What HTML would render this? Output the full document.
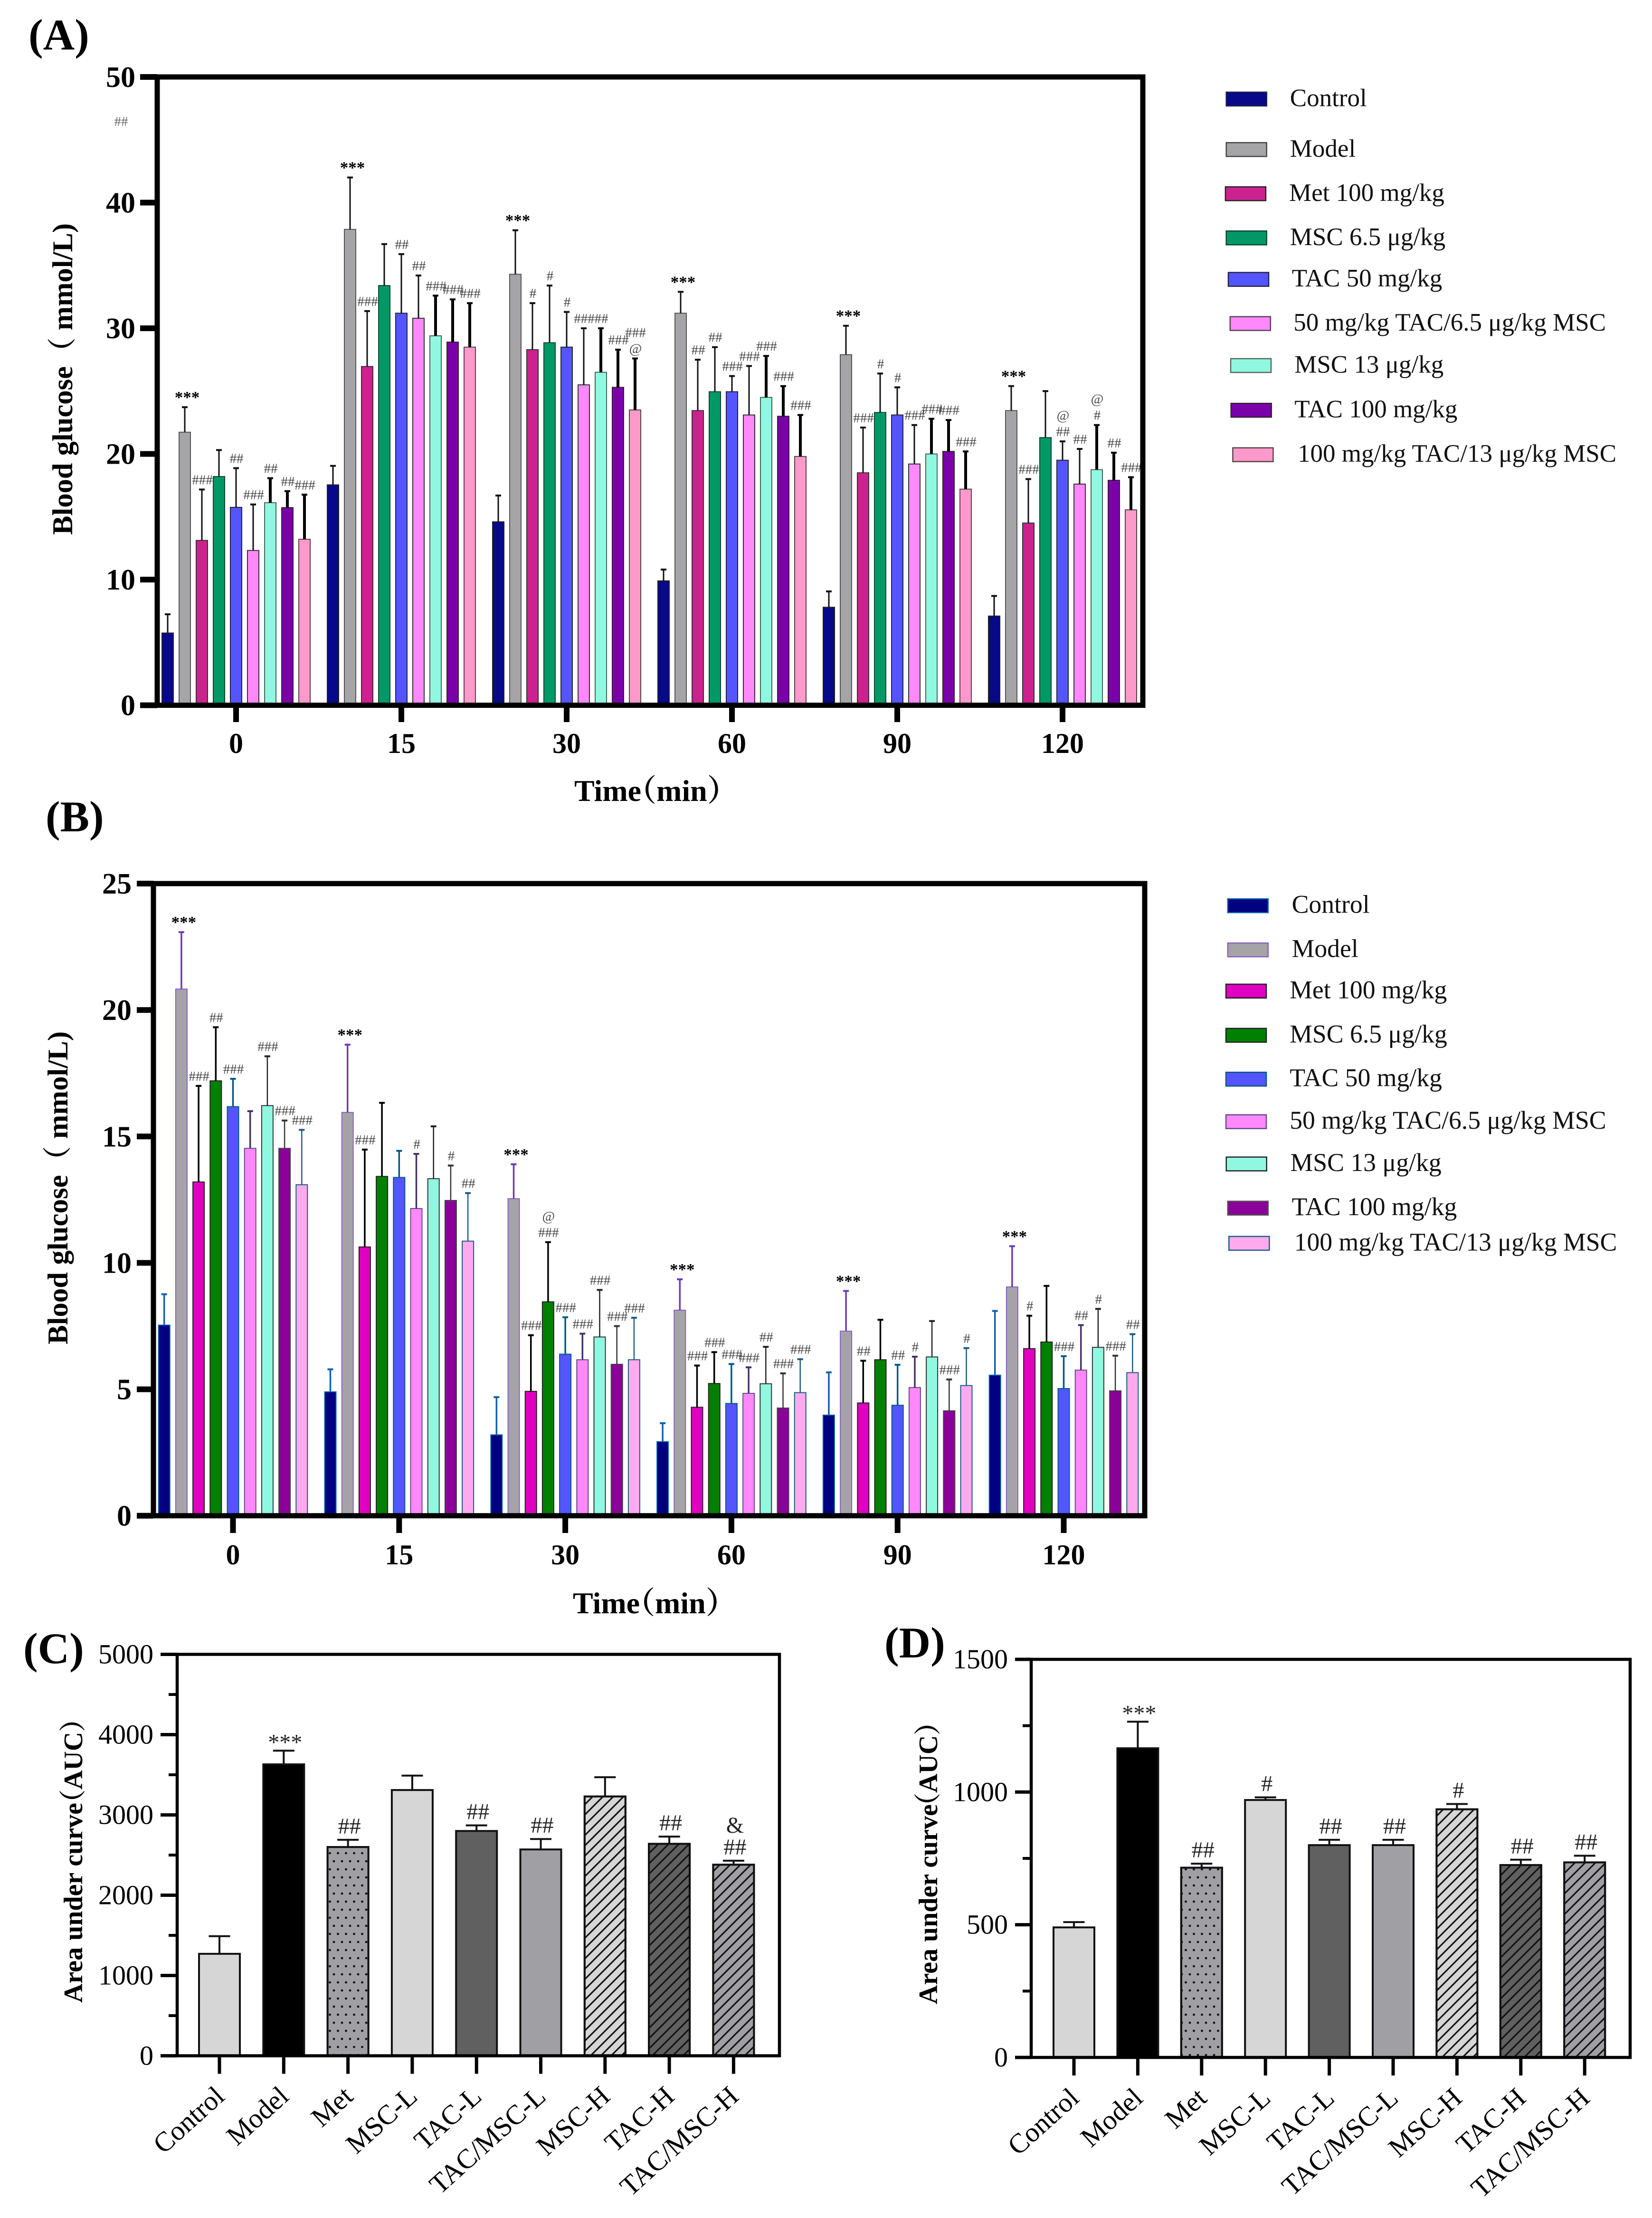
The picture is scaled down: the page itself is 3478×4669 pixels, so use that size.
<!DOCTYPE html>
<html lang="en">
<head>
<meta charset="utf-8">
<title>Blood glucose and AUC bar charts</title>
<style>
html,body{margin:0;padding:0;background:#fff;}
svg{display:block;}
text{font-family:"Liberation Serif","Noto Serif CJK SC",serif;fill:#000;}
.panel{font-size:92px;font-weight:bold;}
.lg{font-size:53px;fill:#111;}
.lgb{font-size:53.7px;fill:#111;}
.ttl{font-size:60px;font-weight:bold;}
.sw{stroke-width:2.5;}
</style>
</head>
<body>
<svg id="figure" xmlns="http://www.w3.org/2000/svg" width="3478" height="4669" viewBox="0 0 3478 4669">
<defs>
<pattern id="dotsP" patternUnits="userSpaceOnUse" width="17" height="34" x="2" y="0"><circle cx="4" cy="8" r="2.4" fill="#111"/><circle cx="12.5" cy="25" r="2.4" fill="#111"/></pattern>
<pattern id="hatchP" patternUnits="userSpaceOnUse" width="15.3" height="15.3" patternTransform="rotate(45)"><line x1="7" y1="0" x2="7" y2="15.3" stroke="#111" stroke-width="3.2"/></pattern>
</defs>
<rect x="0" y="0" width="3478" height="4669" fill="#fff"/>

<text class="panel" x="60" y="104">(A)</text>
<text class="panel" x="96" y="1750">(B)</text>
<text class="panel" x="49" y="3501">(C)</text>
<text class="panel" x="1862" y="3489">(D)</text>

<text class="ttl" transform="translate(152 1126) rotate(-90)" textLength="656" lengthAdjust="spacingAndGlyphs">Blood glucose（ mmol/L)</text>
<text class="ttl" transform="translate(142 2830) rotate(-90)" textLength="659" lengthAdjust="spacingAndGlyphs">Blood glucose（ mmol/L)</text>
<text class="ttl" transform="translate(173 4216) rotate(-90)" style="font-size:56px">Area under curve<tspan dx="-28">（</tspan>AUC）</text>
<text class="ttl" transform="translate(1973 4219) rotate(-90)" style="font-size:56px">Area under curve<tspan dx="-32">（</tspan>AUC）</text>
<text class="ttl" x="1209" y="1686" style="font-size:64px">Time<tspan dx="-32">（</tspan>min）</text>
<text class="ttl" x="1206" y="3396" style="font-size:64px">Time<tspan dx="-32">（</tspan>min）</text>

<g>
<rect class="sw" x="2581.7" y="194" width="85" height="29" fill="#08088a" stroke="#224"/>
<text class="lg" x="2715.8" y="223.6">Control</text>
<rect class="sw" x="2581.7" y="300.3" width="85" height="29" fill="#a5a5a8" stroke="#444"/>
<text class="lg" x="2715.8" y="329.8">Model</text>
<rect class="sw" x="2579.9" y="393.3" width="85" height="29" fill="#cc2290" stroke="#222"/>
<text class="lg" x="2714" y="422.8">Met 100 mg/kg</text>
<rect class="sw" x="2581.7" y="486.3" width="85" height="29" fill="#009966" stroke="#143"/>
<text class="lg" x="2715.8" y="515.8">MSC 6.5 μg/kg</text>
<rect class="sw" x="2586" y="573.6" width="85" height="29" fill="#5555ff" stroke="#224"/>
<text class="lg" x="2719.6" y="603.1">TAC 50 mg/kg</text>
<rect class="sw" x="2589.8" y="666.6" width="85" height="29" fill="#ff88fb" stroke="#545"/>
<text class="lg" x="2723.3" y="696.1">50 mg/kg TAC/6.5 μg/kg MSC</text>
<rect class="sw" x="2591" y="755" width="85" height="29" fill="#90f8e0" stroke="#565"/>
<text class="lg" x="2725.2" y="784.5">MSC 13 μg/kg</text>
<rect class="sw" x="2591.7" y="849.1" width="85" height="29" fill="#7a00aa" stroke="#323"/>
<text class="lg" x="2725.2" y="878.6">TAC 100 mg/kg</text>
<rect class="sw" x="2595.4" y="942.7" width="85" height="29" fill="#ff99cc" stroke="#544"/>
<text class="lg" x="2732" y="972.2">100 mg/kg TAC/13 μg/kg MSC</text>
</g>

<g>
<rect class="sw" x="2584.8" y="1892.1" width="85" height="29" fill="#000080" stroke="#1060b0"/>
<text class="lgb" x="2719.6" y="1921.6">Control</text>
<rect class="sw" x="2584.8" y="1985.1" width="85" height="29" fill="#a5a3a8" stroke="#8a60c0"/>
<text class="lgb" x="2719.6" y="2014.6">Model</text>
<rect class="sw" x="2581" y="2071.8" width="85" height="29" fill="#e000c0" stroke="#222"/>
<text class="lgb" x="2715.2" y="2101.3">Met 100 mg/kg</text>
<rect class="sw" x="2581" y="2164.8" width="85" height="29" fill="#008000" stroke="#222"/>
<text class="lgb" x="2715.2" y="2194.3">MSC 6.5 μg/kg</text>
<rect class="sw" x="2581" y="2257.2" width="85" height="29" fill="#5555ff" stroke="#005a80"/>
<text class="lgb" x="2715.2" y="2286.7">TAC 50 mg/kg</text>
<rect class="sw" x="2581" y="2346.7" width="85" height="29" fill="#ff88fb" stroke="#654a88"/>
<text class="lgb" x="2715.2" y="2376.2">50 mg/kg TAC/6.5 μg/kg MSC</text>
<rect class="sw" x="2581.7" y="2435.7" width="85" height="29" fill="#90f8e0" stroke="#222"/>
<text class="lgb" x="2716.5" y="2465.2">MSC 13 μg/kg</text>
<rect class="sw" x="2584.8" y="2528.7" width="85" height="29" fill="#8b0099" stroke="#555"/>
<text class="lgb" x="2719.6" y="2558.2">TAC 100 mg/kg</text>
<rect class="sw" x="2587.3" y="2602.8" width="85" height="29" fill="#ffaaee" stroke="#1a5a80"/>
<text class="lgb" x="2724.6" y="2632.3">100 mg/kg TAC/13 μg/kg MSC</text>
</g>

<text x="255" y="265" text-anchor="middle" style="font-size:29px;fill:#666">##</text>
</svg>

<script>
// ---------- Shared categories ----------
const timeLabels = ['0', '15', '30', '60', '90', '120'];
const aucCategories = ['Control', 'Model', 'Met', 'MSC-L', 'TAC-L', 'TAC/MSC-L', 'MSC-H', 'TAC-H', 'TAC/MSC-H'];

// ---------- Panel A values (one per time point) ----------
const aTicks = [0, 10, 20, 30, 40, 50];
const aControl = [5.75, 17.54, 14.6, 9.9, 7.8, 7.1];
const aModel = [21.73, 37.87, 34.3, 31.2, 27.9, 23.45];
const aMet = [13.12, 26.96, 28.3, 23.45, 18.5, 14.5];
const aMscLow = [18.2, 33.4, 28.85, 24.95, 23.3, 21.3];
const aTacLow = [15.75, 31.2, 28.5, 24.95, 23.1, 19.5];
const aComboLow = [12.32, 30.8, 25.5, 23.1, 19.2, 17.6];
const aMscHigh = [16.12, 29.4, 26.5, 24.5, 20.0, 18.75];
const aTacHigh = [15.73, 28.9, 25.3, 23.0, 20.2, 17.9];
const aComboHigh = [13.21, 28.5, 23.5, 19.8, 17.2, 15.55];

const aControlUp = [7.24, 19.05, 16.69, 10.8, 9.06, 8.7];
const aModelUp = [23.72, 42.0, 37.8, 32.9, 30.2, 25.4];
const aMetUp = [17.17, 31.37, 32.0, 27.5, 22.1, 18.0];
const aMscLowUp = [20.31, 36.7, 33.4, 28.5, 26.4, 25.0];
const aTacLowUp = [18.87, 35.9, 31.3, 26.2, 25.3, 21.0];
const aComboLowUp = [15.98, 34.2, 30.0, 27.0, 22.3, 20.4];
const aMscHighUp = [18.07, 32.6, 30.0, 27.8, 22.8, 22.3];
const aTacHighUp = [17.04, 32.3, 28.3, 25.4, 22.7, 20.1];
const aComboHighUp = [16.76, 32.0, 27.6, 23.1, 20.2, 18.15];

const aNotes0 = ['', '***', '###', '', '##', '###', '##', '##', '###'];
const aNotes15 = ['', '***', '###', '', '##', '##', '###', '###', '###'];
const aNotes30 = ['', '***', '#', '#', '#', '###', '##', '###', '###|@'];
const aNotes60 = ['', '***', '##', '##', '###', '###', '###', '###', '###'];
const aNotes90 = ['', '***', '###', '#', '#', '###', '###', '###', '###'];
const aNotes120 = ['', '***', '###', '', '@|##', '##', '@|#', '##', '###'];

// ---------- Panel B values ----------
const bTicks = [0, 5, 10, 15, 20, 25];
const bControl = [7.54, 4.9, 3.2, 2.93, 3.98, 5.56];
const bModel = [20.83, 15.95, 12.54, 8.13, 7.3, 9.05];
const bMet = [13.2, 10.63, 4.92, 4.29, 4.46, 6.61];
const bMscLow = [17.2, 13.42, 8.46, 5.23, 6.17, 6.87];
const bTacLow = [16.18, 13.38, 6.39, 4.44, 4.37, 5.03];
const bComboLow = [14.53, 12.15, 6.17, 4.84, 5.07, 5.76];
const bMscHigh = [16.22, 13.33, 7.07, 5.22, 6.28, 6.66];
const bTacHigh = [14.53, 12.47, 5.99, 4.26, 4.15, 4.94];
const bComboHigh = [13.09, 10.86, 6.17, 4.87, 5.15, 5.66];

const bControlUp = [8.76, 5.79, 4.69, 3.66, 5.67, 8.1];
const bModelUp = [23.08, 18.63, 13.9, 9.35, 8.89, 10.66];
const bMetUp = [17.0, 14.48, 7.14, 5.94, 6.13, 7.91];
const bMscLowUp = [19.32, 16.33, 10.82, 6.47, 7.75, 9.09];
const bTacLowUp = [17.28, 14.43, 7.85, 6.0, 5.97, 6.31];
const bComboLowUp = [16.0, 14.31, 7.2, 5.87, 6.29, 7.54];
const bMscHighUp = [18.17, 15.4, 8.93, 6.68, 7.7, 8.18];
const bTacHighUp = [15.63, 13.85, 7.5, 5.63, 5.39, 6.33];
const bComboHighUp = [15.26, 12.76, 7.83, 6.19, 6.63, 7.18];

const bNotes0 = ['', '***', '###', '##', '###', '', '###', '###', '###'];
const bNotes15 = ['', '***', '###', '', '', '#', '', '#', '##'];
const bNotes30 = ['', '***', '###', '@|###', '###', '###', '###', '###', '###'];
const bNotes60 = ['', '***', '###', '###', '###', '###', '##', '###', '###'];
const bNotes90 = ['', '***', '##', '', '##', '#', '', '###', '#'];
const bNotes120 = ['', '***', '#', '', '###', '##', '#', '###', '##'];

// ---------- Panel C / D values ----------
const cTicks = [0, 1000, 2000, 3000, 4000, 5000];
const cMinorTicks = [500, 1500, 2500, 3500, 4500];
const cMeans = [1270, 3630, 2600, 3310, 2800, 2570, 3230, 2640, 2380];
const cUppers = [1490, 3800, 2690, 3490, 2870, 2700, 3470, 2730, 2430];
const cNotes = ['', '***', '##', '', '##', '##', '', '##', '&|##'];

const dTicks = [0, 500, 1000, 1500];
const dMinorTicks = [250, 750, 1250];
const dMeans = [490, 1165, 715, 970, 800, 800, 935, 725, 735];
const dUppers = [510, 1265, 730, 980, 820, 820, 955, 745, 760];
const dNotes = ['', '***', '##', '#', '##', '##', '#', '##', '##'];

// ---------- Drawing ----------
const NS = 'http://www.w3.org/2000/svg';
const figure = document.getElementById('figure');

function mk(tag, attrs, parent) {
  const n = document.createElementNS(NS, tag);
  for (const k in attrs) n.setAttribute(k, attrs[k]);
  parent.appendChild(n);
  return n;
}

function drawGrouped(cfg) {
  const g = mk('g', {}, figure);
  
  
  const yMax = cfg.ticks[cfg.ticks.length - 1];
  const yOf = v => cfg.bottom - v / yMax * (cfg.bottom - cfg.top);
  const xOf = (t, s) => cfg.x0 + t * cfg.groupStep + (s - 4) * cfg.barStep;

  timeLabels.forEach((lab, t) => {
    cfg.means.forEach((series, s) => {
      const bx = xOf(t, s);
      const bar = mk('rect', {x: bx - cfg.barW / 2, y: yOf(series[t]), width: cfg.barW, height: cfg.bottom - yOf(series[t]), fill: cfg.fills[s], stroke: cfg.strokes[s], 'stroke-width': 2}, g);
      
      
      const top = yOf(cfg.uppers[s][t]);
      const stem = mk('line', {x1: bx, x2: bx, y1: yOf(series[t]), y2: top, stroke: cfg.errColors[s], 'stroke-width': cfg.errWidths[s]}, g);
      
      
      const cap = mk('line', {x1: bx - 6, x2: bx + 6, y1: top, y2: top, stroke: cfg.errColors[s], 'stroke-width': 4}, g);
      
      
      const note = cfg.notes[t][s];
      if (note) {
        const lines = note.split('|').reverse();
        lines.forEach((txt, li) => {
          const star = txt === '***';
          const base = top - (star ? 9 : 11) - li * 34;
          const tx = mk('text', {x: bx + (star ? 5 : 1), y: base, 'text-anchor': 'middle', style: star ? 'font-size:35px;font-weight:bold;fill:#000' : 'font-size:29px;fill:#444'}, g);
          tx.textContent = txt;
          
          
        });
      }
    });
    const tick = mk('rect', {x: cfg.x0 + t * cfg.groupStep - 6, y: cfg.bottom, width: 12, height: cfg.tickEnd - cfg.bottom, fill: '#000'}, g);
    
    
    const tl = mk('text', {x: cfg.x0 + t * cfg.groupStep, y: cfg.xLabelY, 'text-anchor': 'middle', style: 'font-size:60px;font-weight:bold'}, g);
    tl.textContent = lab;
    
    
  });

  cfg.ticks.forEach(v => {
    const tk = mk('rect', {x: cfg.tickLeft, y: yOf(v) - 6, width: cfg.left - cfg.tickLeft, height: 12, fill: '#000'}, g);
    
    
    const tl = mk('text', {x: cfg.yLabelX, y: yOf(v) + 21, 'text-anchor': 'end', style: 'font-size:62px;font-weight:bold'}, g);
    tl.textContent = String(v);
    
    
  });

  const frame = mk('rect', {x: cfg.left, y: cfg.top, width: cfg.right - cfg.left, height: cfg.bottom - cfg.top, fill: 'none', stroke: '#000', 'stroke-width': 11}, g);
  
  
}

drawGrouped({
  name: 'chart-a', ticks: aTicks, left: 331, right: 2406, top: 162, bottom: 1484.6,
  x0: 497, groupStep: 348, barStep: 36, barW: 24, tickEnd: 1520, tickLeft: 295, yLabelX: 285, xLabelY: 1585,
  means: [aControl, aModel, aMet, aMscLow, aTacLow, aComboLow, aMscHigh, aTacHigh, aComboHigh],
  uppers: [aControlUp, aModelUp, aMetUp, aMscLowUp, aTacLowUp, aComboLowUp, aMscHighUp, aTacHighUp, aComboHighUp],
  notes: [aNotes0, aNotes15, aNotes30, aNotes60, aNotes90, aNotes120],
  fills: ['#08088a', '#a5a5a8', '#cc2290', '#009966', '#5555ff', '#ff88fb', '#90f8e0', '#7a00aa', '#ff99cc'],
  strokes: ['#222', '#555', '#333', '#143', '#224', '#333', '#465', '#323', '#544'],
  errColors: ['#111', '#111', '#111', '#111', '#111', '#111', '#000', '#000', '#000'],
  errWidths: [3, 3, 3, 3, 3, 3, 6, 6, 6]
});

drawGrouped({
  name: 'chart-b', ticks: bTicks, left: 323, right: 2410, top: 1860, bottom: 3190.7,
  x0: 490.5, groupStep: 349.8, barStep: 36.2, barW: 24, tickEnd: 3227, tickLeft: 288, yLabelX: 277, xLabelY: 3293,
  means: [bControl, bModel, bMet, bMscLow, bTacLow, bComboLow, bMscHigh, bTacHigh, bComboHigh],
  uppers: [bControlUp, bModelUp, bMetUp, bMscLowUp, bTacLowUp, bComboLowUp, bMscHighUp, bTacHighUp, bComboHighUp],
  notes: [bNotes0, bNotes15, bNotes30, bNotes60, bNotes90, bNotes120],
  fills: ['#000080', '#a5a3a8', '#e000c0', '#008000', '#5555ff', '#ff88fb', '#90f8e0', '#8b0099', '#ffaaee'],
  strokes: ['#1060b0', '#8a60c0', '#222', '#222', '#005a80', '#654a88', '#333', '#444', '#1a5a80'],
  errColors: ['#1060b0', '#6a3ab5', '#000', '#000', '#005a80', '#443366', '#222', '#333', '#1a5a80'],
  errWidths: [3.5, 3.5, 3.5, 3.5, 3.5, 3.5, 2.5, 2.5, 2.5]
});

function drawAuc(cfg) {
  const g = mk('g', {}, figure);
  
  
  const yMax = cfg.ticks[cfg.ticks.length - 1];
  const yOf = v => cfg.bottom - v / yMax * (cfg.bottom - cfg.top);
  const baseFills = ['#d6d6d6', '#000000', '#a0a0a4', '#d6d6d6', '#606060', '#a0a0a4', '#d6d6d6', '#606060', '#a0a0a4'];
  const overlay = ['', '', 'url(#dotsP)', '', '', '', 'url(#hatchP)', 'url(#hatchP)', 'url(#hatchP)'];

  aucCategories.forEach((cat, i) => {
    const bx = cfg.x0 + i * cfg.step;
    const v = cfg.means[i];
    const up = yOf(cfg.uppers[i]);
    const stem = mk('line', {x1: bx, x2: bx, y1: yOf(v), y2: up, stroke: '#111', 'stroke-width': 4}, g);
    
    
    const cap = mk('line', {x1: bx - 22.5, x2: bx + 22.5, y1: up, y2: up, stroke: '#111', 'stroke-width': 4}, g);
    
    
    const bar = mk('rect', {x: bx - cfg.barW / 2, y: yOf(v), width: cfg.barW, height: cfg.bottom - yOf(v), fill: baseFills[i], stroke: '#111', 'stroke-width': 4}, g);
    
    
    if (overlay[i]) {
      const pat = mk('rect', {x: bx - cfg.barW / 2, y: yOf(v), width: cfg.barW, height: cfg.bottom - yOf(v), fill: overlay[i], stroke: '#111', 'stroke-width': 4}, g);
      
      
    }
    if (cfg.notes[i]) {
      const lines = cfg.notes[i].split('|').reverse();
      lines.forEach((txt, li) => {
        const star = txt === '***';
        const tx = mk('text', {x: bx + 3, y: up - (star ? 2 : 13) - li * 46, 'text-anchor': 'middle', style: 'font-size:48px;fill:#222'}, g);
        tx.textContent = txt;
        
        
      });
    }
    const tick = mk('rect', {x: bx - 3.5, y: cfg.bottom, width: 7, height: 38, fill: '#000'}, g);
    
    
    const lab = mk('text', {transform: 'translate(' + (bx + 14) + ' ' + (cfg.bottom + 90) + ') rotate(-42)', 'text-anchor': 'end', style: 'font-size:58px'}, g);
    lab.textContent = cat;
    
    
  });

  cfg.ticks.forEach(v => {
    const tk = mk('rect', {x: cfg.tickLeft, y: yOf(v) - 3.5, width: cfg.left - cfg.tickLeft, height: 7, fill: '#000'}, g);
    
    
    const tl = mk('text', {x: cfg.yLabelX, y: yOf(v) + 19, 'text-anchor': 'end', style: 'font-size:58px'}, g);
    tl.textContent = String(v);
    
    
  });
  cfg.minor.forEach(v => {
    const tk = mk('rect', {x: cfg.left - 18, y: yOf(v) - 3, width: 18, height: 6, fill: '#000'}, g);
    
    
  });
  const frame = mk('rect', {x: cfg.left, y: cfg.top, width: cfg.right - cfg.left, height: cfg.bottom - cfg.top, fill: 'none', stroke: '#000', 'stroke-width': 6.5}, g);
  
  
}

drawAuc({
  name: 'chart-c', ticks: cTicks, minor: cMinorTicks, means: cMeans, uppers: cUppers, notes: cNotes,
  left: 373, right: 1641, top: 3482.5, bottom: 4327.5, x0: 462, step: 135.3, barW: 86, tickLeft: 338, yLabelX: 323
});
drawAuc({
  name: 'chart-d', ticks: dTicks, minor: dMinorTicks, means: dMeans, uppers: dUppers, notes: dNotes,
  left: 2171, right: 3432, top: 3493, bottom: 4331, x0: 2261, step: 134.4, barW: 86, tickLeft: 2137, yLabelX: 2122
});
</script>
</body>
</html>
